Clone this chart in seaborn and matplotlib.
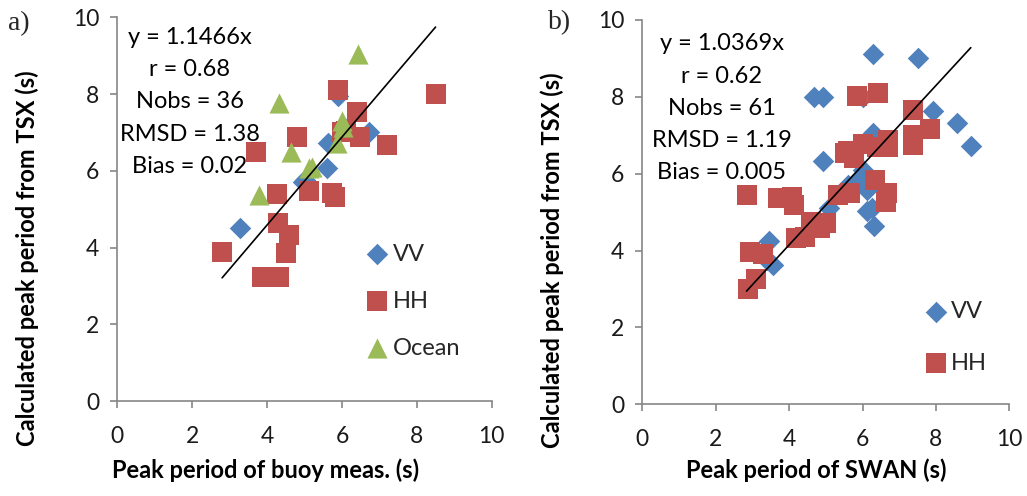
import numpy as np
import pandas as pd
import matplotlib
matplotlib.use("Agg")
import matplotlib.pyplot as plt
import seaborn as sns

sns.set_theme(style="white")
plt.rcParams['font.family'] = ['Lato', 'DejaVu Sans']

# ---------------- Data: panel a (buoy) ----------------
a_vv_x = [3.29, 4.97, 5.59, 5.64, 6.71, 5.89, 6.10, 5.00]
a_vv_y = [4.52, 5.72, 6.06, 6.72, 7.02, 7.95, 7.10, 5.75]
a_hh_x = [8.50, 5.90, 6.39, 5.99, 6.48, 7.19, 4.79, 3.70, 4.26, 5.13, 5.73, 5.82,
          4.30, 4.59, 4.50, 2.80, 3.87, 4.31, 6.10]
a_hh_y = [8.00, 8.10, 7.52, 7.02, 6.89, 6.66, 6.89, 6.50, 5.39, 5.48, 5.43, 5.33,
          4.63, 4.33, 3.87, 3.89, 3.24, 3.24, 7.05]
a_oc_x = [6.43, 4.33, 4.64, 5.13, 3.78, 6.04, 5.88, 6.00, 5.20]
a_oc_y = [9.05, 7.76, 6.50, 6.06, 5.37, 7.15, 6.72, 7.30, 6.10]
a_slope = 1.1466
a_stats = ["y = 1.1466x", "r = 0.68", "Nobs = 36", "RMSD = 1.38", "Bias = 0.02"]

# ---------------- Data: panel b (SWAN) ----------------
b_vv_x = [6.28, 7.52, 4.68, 4.93, 6.02, 7.91, 8.58, 8.95, 6.29, 4.91, 6.02, 5.84,
          6.13, 5.10, 6.11, 6.25, 6.31, 3.46, 3.39, 3.55, 5.60, 6.20]
b_vv_y = [9.11, 9.02, 8.00, 8.00, 8.00, 7.63, 7.31, 6.72, 7.05, 6.34, 6.10, 5.84,
          5.58, 5.10, 5.04, 5.10, 4.64, 4.26, 3.76, 3.63, 5.70, 6.90]
b_hh_x = [5.84, 6.43, 7.37, 7.84, 7.37, 7.37, 6.70, 6.70, 6.00, 5.52, 5.77, 6.34,
          6.66, 6.64, 5.34, 5.66, 2.84, 3.71, 4.07, 4.13, 4.61, 5.00, 4.84, 4.19,
          4.43, 2.93, 3.28, 3.11, 2.89, 5.60, 6.40, 4.70]
b_hh_y = [8.01, 8.09, 7.66, 7.16, 7.01, 6.75, 6.88, 6.70, 6.77, 6.53, 6.40, 5.84,
          5.49, 5.27, 5.45, 5.49, 5.45, 5.36, 5.40, 5.19, 4.75, 4.73, 4.58, 4.32,
          4.35, 3.97, 3.91, 3.26, 2.99, 6.60, 6.70, 4.60]
b_slope = 1.0369
b_stats = ["y = 1.0369x", "r = 0.62", "Nobs = 61", "RMSD = 1.19", "Bias = 0.005"]

ticks = [0, 2, 4, 6, 8, 10]
ylabel = "Calculated peak period from TSX (s)"
a_xlabel = "Peak period of buoy meas. (s)"
b_xlabel = "Peak period of SWAN (s)"

C_VV = "#4F81BD"
C_HH = "#C0504D"
C_OC = "#9BBB59"
AX_C = "#868686"

fig = plt.figure(figsize=(10.27, 4.96), dpi=100)
ax_a = fig.add_axes([0.1142, 0.1915, 0.3646, 0.7736])
ax_b = fig.add_axes([0.6254, 0.1849, 0.3574, 0.7748])


def draw(ax, series, slope, stats, xlabel, stat_xy, leg_anchor, leg_sp,
         xl_coords, yl_coords):
    allx = []
    for name, xs, ys, col, mk, sz in series:
        df = pd.DataFrame({"x": xs, "y": ys})
        sns.scatterplot(data=df, x="x", y="y", ax=ax, color=col, marker=mk, s=sz,
                        linewidth=0, label=name, zorder=3)
        allx += list(xs)
    lx = np.array([min(allx), max(allx)])
    ax.plot(lx, slope * lx, color="black", lw=1.2, zorder=4)
    ax.set_xlim(0, 10)
    ax.set_ylim(0, 10)
    ax.set_xticks(ticks)
    ax.set_yticks(ticks)
    ax.set_xticklabels([str(t) for t in ticks])
    ax.set_yticklabels([str(t) for t in ticks])
    for s in ["top", "right"]:
        ax.spines[s].set_visible(False)
    for s in ["left", "bottom"]:
        ax.spines[s].set_color(AX_C)
        ax.spines[s].set_linewidth(1.2)
    ax.tick_params(axis="both", direction="out", length=5, width=1.2, color=AX_C,
                   labelsize=16.5, labelcolor="#1a1a1a", bottom=True, left=True)
    ax.tick_params(axis="x", pad=13)
    ax.tick_params(axis="y", pad=8)
    ax.set_xlabel(xlabel, fontsize=17, fontweight="bold", color="black", va="center")
    ax.set_ylabel(ylabel, fontsize=17, fontweight="bold", color="black", va="center")
    ax.xaxis.set_label_coords(*xl_coords)
    ax.yaxis.set_label_coords(*yl_coords)
    ax.text(stat_xy[0], stat_xy[1], "\n".join(stats), transform=ax.transAxes,
            ha="center", va="top", fontsize=17, linespacing=1.66, color="black")
    ax.legend(loc="upper left", bbox_to_anchor=leg_anchor, frameon=False,
              fontsize=17, labelspacing=leg_sp, handletextpad=0.15,
              handlelength=1.0, borderpad=0, borderaxespad=0)
    ax.grid(False)


draw(ax_a,
     [("VV", a_vv_x, a_vv_y, C_VV, "D", 120),
      ("HH", a_hh_x, a_hh_y, C_HH, "s", 210),
      ("Ocean", a_oc_x, a_oc_y, C_OC, "^", 210)],
     a_slope, a_stats, a_xlabel, (0.194, 0.975), (0.663, 0.41), 1.1,
     (0.395, -0.18), (-0.241, 0.373))

draw(ax_b,
     [("VV", b_vv_x, b_vv_y, C_VV, "D", 120),
      ("HH", b_hh_x, b_hh_y, C_HH, "s", 210)],
     b_slope, b_stats, b_xlabel, (0.217, 0.965), (0.768, 0.269), 1.3,
     (0.473, -0.171), (-0.246, 0.375))

fig.text(8 / 1027, 1 - 24 / 496, "a)", family="Liberation Serif", fontsize=20,
         va="center", ha="left")
fig.text(548 / 1027, 1 - 23 / 496, "b)", family="Liberation Serif", fontsize=20,
         va="center", ha="left")

fig.savefig("out.png", dpi=100, facecolor="white")
